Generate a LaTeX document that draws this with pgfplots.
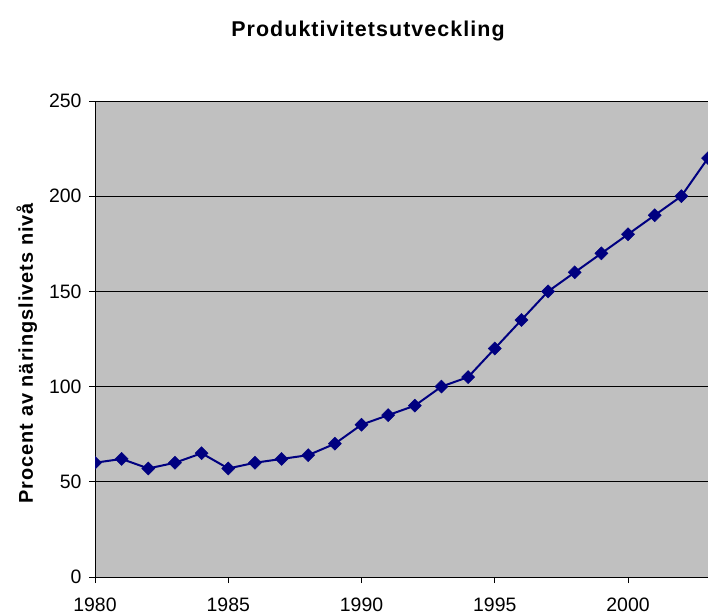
\documentclass[border=0pt]{standalone}
\usepackage{pgfplots}
\pgfplotsset{compat=1.18}
\usepackage{fontspec}
\setmainfont{Liberation Sans}
\newfontfamily\titlefont[LetterSpace=5]{Liberation Sans}
\newfontfamily\labelfont[LetterSpace=5]{Liberation Sans}
\definecolor{plotbg}{RGB}{192,192,192}
\definecolor{series}{RGB}{0,0,128}

\pgfplotstableread{
year value
1980 60
1981 62
1982 57
1983 60
1984 65
1985 57
1986 60
1987 62
1988 64
1989 70
1990 80
1991 85
1992 90
1993 100
1994 105
1995 120
1996 135
1997 150
1998 160
1999 170
2000 180
2001 190
2002 200
2003 220
}\productivity

\begin{document}
\begin{tikzpicture}
\begin{axis}[
  scale only axis,
  width=613bp, height=476bp,
  xmin=1980, xmax=2003,
  ymin=0, ymax=250,
  xtick={1980,1985,...,2000},
  ytick={0,50,...,250},
  axis lines=left,
  axis line style={black, line width=0.9bp, -},
  tick align=outside,
  major tick length=6bp,
  tick style={black, line width=0.9bp},
  ymajorgrids,
  grid style={black, line width=0.8bp},
  axis background/.style={fill=plotbg},
  /pgf/number format/1000 sep={},
  /pgf/number format/assume math mode=true,
  tick label style={font=\fontsize{19.5}{22}\selectfont},
  xticklabel style={yshift=-11bp},
  yticklabel style={xshift=-4bp},
  clip marker paths=true,
]
\addplot[series, line width=2bp, mark=square*, mark size=4.6bp,
  mark options={rotate=45, fill=series, draw=series, line width=0.5bp}]
  table[x=year, y=value] {\productivity};
\coordinate (bl) at (rel axis cs:0,0);
\coordinate (tr) at (rel axis cs:1,1);
\coordinate (tl) at (rel axis cs:0,1);
\coordinate (ml) at (rel axis cs:0,0.47);
\end{axis}
\node[font=\titlefont\fontsize{21.5}{24}\selectfont\bfseries, anchor=base]
  at ([xshift=273bp, yshift=64bp]tl) {Produktivitetsutveckling};
\node[font=\labelfont\fontsize{20}{22}\selectfont\bfseries, rotate=90, anchor=base]
  at ([xshift=-62bp]ml) {Procent av näringslivets nivå};
\pgfresetboundingbox
\path ([xshift=-95bp, yshift=-39bp]bl) rectangle ([yshift=101bp]tr);
\end{tikzpicture}
\end{document}
